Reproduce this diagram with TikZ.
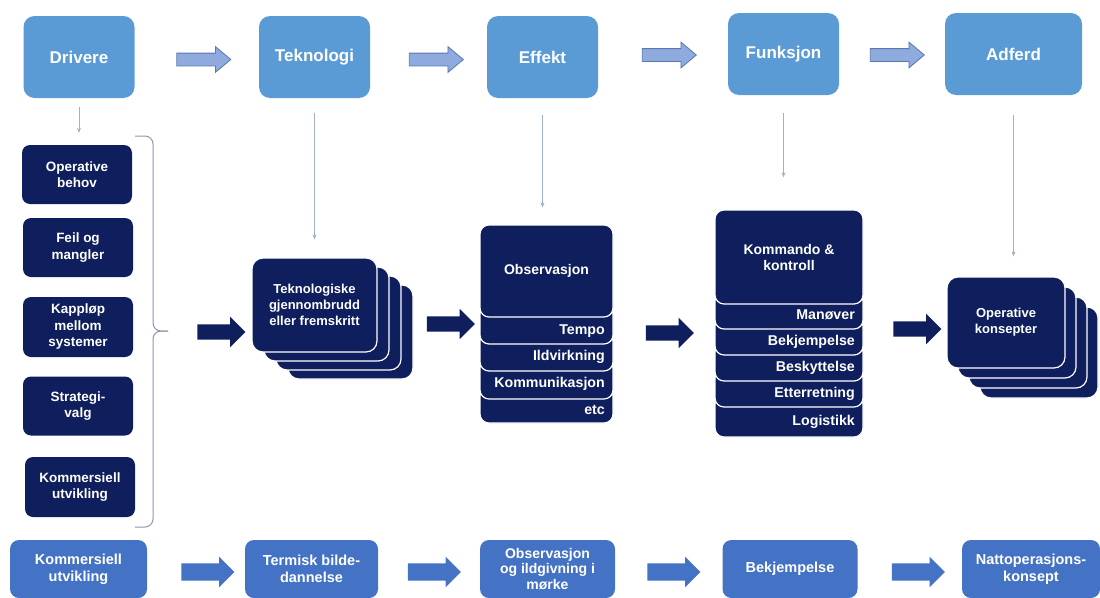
\documentclass[tikz,border=0pt]{standalone}
\usepackage{fontspec}
\setmainfont{Liberation Sans}
\usetikzlibrary{shapes.arrows,arrows.meta}

\definecolor{topblue}{HTML}{5B9BD5}
\definecolor{lowblue}{HTML}{4472C4}
\definecolor{navy}{HTML}{0F1E5C}
\definecolor{arrowfill}{HTML}{8FAADC}
\definecolor{arrowline}{HTML}{5A76B4}
\definecolor{thinline}{HTML}{A3AEC9}
\definecolor{bracegray}{HTML}{8E97AE}

\tikzset{
  phase/.style={rectangle, rounded corners=11pt, fill=topblue, text=white,
    minimum width=111pt, minimum height=82pt, inner sep=0pt,
    font=\fontsize{17}{19}\selectfont\bfseries},
  driver/.style={rectangle, rounded corners=8pt, fill=navy, text=white, align=center,
    minimum width=110pt, minimum height=59pt, inner sep=0pt,
    font=\fontsize{13.5}{16.5}\selectfont\bfseries},
  card/.style={rectangle, rounded corners=11pt, fill=navy, draw=white, line width=1.2pt,
    text=white, align=center, inner sep=0pt,
    font=\fontsize{13}{16}\selectfont\bfseries},
  layer/.style={fill=navy, draw=white, line width=1.2pt, rounded corners=9pt},
  layerhead/.style={layer, rectangle, text=white, align=center, inner sep=0pt,
    font=\fontsize{14}{16}\selectfont\bfseries},
  layertext/.style={text=white, anchor=east, inner sep=0pt,
    font=\fontsize{14.2}{16}\selectfont\bfseries},
  example/.style={rectangle, rounded corners=9pt, fill=lowblue, text=white, align=center,
    minimum width=135pt, minimum height=58pt, inner sep=0pt,
    font=\fontsize{14.5}{17}\selectfont\bfseries},
  flow/.style={single arrow, single arrow head extend=6.5pt, single arrow tip angle=80,
    inner xsep=0pt, inner ysep=6pt, minimum height=54pt,
    fill=arrowfill, draw=arrowline, line width=0.8pt},
  bigflow/.style={single arrow, single arrow head extend=7.5pt, single arrow tip angle=90,
    inner xsep=0pt, inner ysep=7.5pt, minimum height=48pt, fill=navy},
  lowflow/.style={single arrow, single arrow head extend=6.5pt, single arrow tip angle=90,
    inner xsep=0pt, inner ysep=8.5pt, minimum height=53pt, fill=lowblue},
  feed/.style={draw=thinline, line width=0.9pt, -{Stealth[length=5pt,width=4pt]}},
  bracket/.style={draw=bracegray, line width=1pt, rounded corners=8pt},
}

\begin{document}
\begin{tikzpicture}[x=1pt, y=-1pt]
\useasboundingbox (0,0) rectangle (1100,597);

% phases
\node[phase] (drv) at (79,57) {Drivere};
\node[phase] (tek) at (314.5,57) {Teknologi};
\node[phase] (eff) at (542.5,57) {Effekt};
\node[phase] (fun) at (783.5,54) {Funksjon};
\node[phase, minimum width=137pt] (adf) at (1013.5,54) {Adferd};
\node[flow] (f1) at (200,59.5) {};
\node[flow] (f2) at (432.5,59.5) {};
\node[flow] (f3) at (665.5,55) {};
\node[flow] (f4) at (893.5,55) {};

% drivers
\node[driver] (opb) at (77,174.5) {Operative\\behov};
\node[driver] (feil) at (78,247.5) {Feil og\\mangler};
\node[driver, minimum height=60pt] (kapp) at (78,327) {Kappløp\\mellom\\systemer};
\node[driver] (strat) at (78,406) {Strategi-\\valg};
\node[driver, minimum height=60pt] (komm) at (80,487) {Kommersiell\\utvikling};
\draw[bracket] (135,136) -| (153,331) -- (168,331);
\draw[bracket] (135,527) -| (153,331) -- (168,331);

% technology cards
\foreach \i in {3,2,1}
  \node[card, minimum width=125pt, minimum height=94pt] at (314.5+\i*12, 305+\i*9) {};
\node[card, minimum width=125pt, minimum height=94pt] (gjen) at (314.5,305)
  {Teknologiske\\gjennombrudd\\eller fremskritt};

% effect stack, bottom layer first
\foreach \t/\b in {387/423, 359/399, 332/371, 305/344}
  \filldraw[layer] (480,\t) rectangle (613,\b);
\node[layerhead, minimum width=133pt, minimum height=92pt] (obs) at (546.5,271) {Observasjon};
\node[layertext] (tempo) at (605,331) {Tempo};
\node[layertext] (ild) at (605,357) {Ildvirkning};
\node[layertext] (kom) at (605,384) {Kommunikasjon};
\node[layertext] (etc) at (605,410) {etc};

% function stack
\foreach \t/\b in {395/437, 369/407, 343/381, 317/355, 292/329}
  \filldraw[layer] (715,\t) rectangle (863,\b);
\node[layerhead, minimum width=148pt, minimum height=94pt] (kk) at (789,257) {Kommando \&\\kontroll};
\node[layertext] (man) at (855,315) {Manøver};
\node[layertext] (bek) at (855,342) {Bekjempelse};
\node[layertext] (besk) at (855,368) {Beskyttelse};
\node[layertext] (ett) at (855,394) {Etterretning};
\node[layertext] (log) at (855,422) {Logistikk};

% operative concepts
\foreach \i in {3,2,1}
  \node[card, minimum width=118pt, minimum height=91pt] at (1006+\i*11, 322.5+\i*10) {};
\node[card, minimum width=118pt, minimum height=91pt] (ops) at (1006,322.5)
  {Operative\\konsepter};

\node[bigflow] (b1) at (217.5,332) {};
\node[bigflow] (b2) at (447,324) {};
\node[bigflow] (b3) at (666,333) {};
\node[bigflow] (b4) at (913.5,329) {};

% thin feeds
\draw[feed, shorten <=9pt, shorten >=12pt] (drv.south) -- (drv.south |- opb.north);
\draw[feed, shorten <=15pt, shorten >=18pt] (tek.south) -- (tek.south |- gjen.north);
\draw[feed, shorten <=17pt, shorten >=17pt] (eff.south) -- (eff.south |- obs.north);
\draw[feed, shorten <=18pt, shorten >=32pt] (fun.south) -- (fun.south |- kk.north);
\draw[feed, shorten <=20pt, shorten >=20pt] (adf.south) -- (adf.south |- ops.north);

% example chain
\node[example, minimum width=137pt] (e1) at (78.5,569) {Kommersiell\\utvikling};
\node[example, minimum width=133pt] (e2) at (311.5,569) {Termisk bilde-\\dannelse};
\node[example, font=\fontsize{14}{15.5}\selectfont\bfseries] (e3) at (547.5,569)
  {Observasjon\\og ildgivning i\\mørke};
\node[example] (e4) at (790,569) {Bekjempelse};
\node[example, minimum width=138pt] (e5) at (1031,569) {Nattoperasjons-\\konsept};
\node[lowflow] (l1) at (203.5,572) {};
\node[lowflow] (l2) at (430,572) {};
\node[lowflow] (l3) at (669.5,572) {};
\node[lowflow] (l4) at (914,572) {};
\end{tikzpicture}
\end{document}
